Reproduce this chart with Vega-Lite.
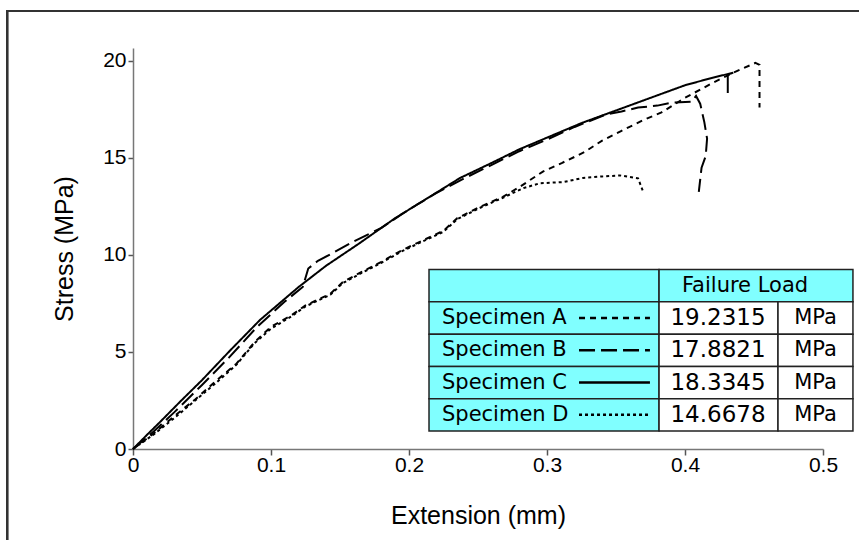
{
  "$schema": "https://vega.github.io/schema/vega-lite/v6.json",
  "width": 690,
  "height": 401,
  "autosize": {"type": "none"},
  "padding": {"left": 133, "top": 48, "right": 36, "bottom": 91},
  "background": "white",
  "config": {"view": {"stroke": null}, "font": "Liberation Sans", "axis": {"labelFontSize": 21, "labelFont": "Liberation Sans", "labelColor": "black"}},
  "datasets": {
    "curves": [
      {"specimen": "A", "i": 0, "ext": 0, "stress": 0},
      {"specimen": "A", "i": 1, "ext": 0.015, "stress": 0.8},
      {"specimen": "A", "i": 2, "ext": 0.03, "stress": 1.7},
      {"specimen": "A", "i": 3, "ext": 0.045, "stress": 2.55},
      {"specimen": "A", "i": 4, "ext": 0.06, "stress": 3.5},
      {"specimen": "A", "i": 5, "ext": 0.075, "stress": 4.4},
      {"specimen": "A", "i": 6, "ext": 0.088, "stress": 5.5},
      {"specimen": "A", "i": 7, "ext": 0.1, "stress": 6.3},
      {"specimen": "A", "i": 8, "ext": 0.115, "stress": 6.9},
      {"specimen": "A", "i": 9, "ext": 0.125, "stress": 7.4},
      {"specimen": "A", "i": 10, "ext": 0.143, "stress": 8.0},
      {"specimen": "A", "i": 11, "ext": 0.152, "stress": 8.6},
      {"specimen": "A", "i": 12, "ext": 0.165, "stress": 9.1},
      {"specimen": "A", "i": 13, "ext": 0.18, "stress": 9.65},
      {"specimen": "A", "i": 14, "ext": 0.195, "stress": 10.25},
      {"specimen": "A", "i": 15, "ext": 0.21, "stress": 10.75},
      {"specimen": "A", "i": 16, "ext": 0.225, "stress": 11.25},
      {"specimen": "A", "i": 17, "ext": 0.235, "stress": 11.9},
      {"specimen": "A", "i": 18, "ext": 0.252, "stress": 12.5},
      {"specimen": "A", "i": 19, "ext": 0.268, "stress": 13.0},
      {"specimen": "A", "i": 20, "ext": 0.28, "stress": 13.5},
      {"specimen": "A", "i": 21, "ext": 0.297, "stress": 14.3},
      {"specimen": "A", "i": 22, "ext": 0.311, "stress": 14.75},
      {"specimen": "A", "i": 23, "ext": 0.327, "stress": 15.3},
      {"specimen": "A", "i": 24, "ext": 0.34, "stress": 15.9},
      {"specimen": "A", "i": 25, "ext": 0.354, "stress": 16.4},
      {"specimen": "A", "i": 26, "ext": 0.37, "stress": 16.96},
      {"specimen": "A", "i": 27, "ext": 0.383, "stress": 17.35},
      {"specimen": "A", "i": 28, "ext": 0.4, "stress": 18.1},
      {"specimen": "A", "i": 29, "ext": 0.42, "stress": 18.87},
      {"specimen": "A", "i": 30, "ext": 0.435, "stress": 19.4},
      {"specimen": "A", "i": 31, "ext": 0.451, "stress": 19.9},
      {"specimen": "A", "i": 32, "ext": 0.454, "stress": 19.8},
      {"specimen": "A", "i": 33, "ext": 0.454, "stress": 17.6},
      {"specimen": "B", "i": 0, "ext": 0, "stress": 0},
      {"specimen": "B", "i": 1, "ext": 0.015, "stress": 0.9},
      {"specimen": "B", "i": 2, "ext": 0.03, "stress": 1.9},
      {"specimen": "B", "i": 3, "ext": 0.05, "stress": 3.3},
      {"specimen": "B", "i": 4, "ext": 0.07, "stress": 4.75},
      {"specimen": "B", "i": 5, "ext": 0.09, "stress": 6.3},
      {"specimen": "B", "i": 6, "ext": 0.11, "stress": 7.6},
      {"specimen": "B", "i": 7, "ext": 0.123, "stress": 8.35},
      {"specimen": "B", "i": 8, "ext": 0.127, "stress": 9.3},
      {"specimen": "B", "i": 9, "ext": 0.134, "stress": 9.7},
      {"specimen": "B", "i": 10, "ext": 0.146, "stress": 10.15},
      {"specimen": "B", "i": 11, "ext": 0.16, "stress": 10.7},
      {"specimen": "B", "i": 12, "ext": 0.18, "stress": 11.4},
      {"specimen": "B", "i": 13, "ext": 0.2, "stress": 12.35},
      {"specimen": "B", "i": 14, "ext": 0.22, "stress": 13.2},
      {"specimen": "B", "i": 15, "ext": 0.24, "stress": 13.95},
      {"specimen": "B", "i": 16, "ext": 0.26, "stress": 14.65},
      {"specimen": "B", "i": 17, "ext": 0.28, "stress": 15.35},
      {"specimen": "B", "i": 18, "ext": 0.3, "stress": 15.95},
      {"specimen": "B", "i": 19, "ext": 0.32, "stress": 16.6},
      {"specimen": "B", "i": 20, "ext": 0.343, "stress": 17.25},
      {"specimen": "B", "i": 21, "ext": 0.354, "stress": 17.4},
      {"specimen": "B", "i": 22, "ext": 0.366, "stress": 17.6},
      {"specimen": "B", "i": 23, "ext": 0.38, "stress": 17.7},
      {"specimen": "B", "i": 24, "ext": 0.39, "stress": 17.85},
      {"specimen": "B", "i": 25, "ext": 0.405, "stress": 17.9},
      {"specimen": "B", "i": 26, "ext": 0.408, "stress": 18.2},
      {"specimen": "B", "i": 27, "ext": 0.411, "stress": 17.8},
      {"specimen": "B", "i": 28, "ext": 0.414, "stress": 16.85},
      {"specimen": "B", "i": 29, "ext": 0.416, "stress": 16.0},
      {"specimen": "B", "i": 30, "ext": 0.415, "stress": 15.1},
      {"specimen": "B", "i": 31, "ext": 0.412, "stress": 14.5},
      {"specimen": "B", "i": 32, "ext": 0.41, "stress": 13.25},
      {"specimen": "C", "i": 0, "ext": 0, "stress": 0},
      {"specimen": "C", "i": 1, "ext": 0.01, "stress": 0.72},
      {"specimen": "C", "i": 2, "ext": 0.02, "stress": 1.42},
      {"specimen": "C", "i": 3, "ext": 0.035, "stress": 2.5},
      {"specimen": "C", "i": 4, "ext": 0.05, "stress": 3.55},
      {"specimen": "C", "i": 5, "ext": 0.07, "stress": 5.05},
      {"specimen": "C", "i": 6, "ext": 0.092, "stress": 6.65},
      {"specimen": "C", "i": 7, "ext": 0.12, "stress": 8.35},
      {"specimen": "C", "i": 8, "ext": 0.14, "stress": 9.45},
      {"specimen": "C", "i": 9, "ext": 0.164, "stress": 10.6},
      {"specimen": "C", "i": 10, "ext": 0.19, "stress": 11.9},
      {"specimen": "C", "i": 11, "ext": 0.215, "stress": 13.0},
      {"specimen": "C", "i": 12, "ext": 0.237, "stress": 13.97},
      {"specimen": "C", "i": 13, "ext": 0.26, "stress": 14.75},
      {"specimen": "C", "i": 14, "ext": 0.28, "stress": 15.45},
      {"specimen": "C", "i": 15, "ext": 0.3, "stress": 16.05},
      {"specimen": "C", "i": 16, "ext": 0.325, "stress": 16.8},
      {"specimen": "C", "i": 17, "ext": 0.35, "stress": 17.45},
      {"specimen": "C", "i": 18, "ext": 0.375, "stress": 18.1},
      {"specimen": "C", "i": 19, "ext": 0.4, "stress": 18.75},
      {"specimen": "C", "i": 20, "ext": 0.418, "stress": 19.1},
      {"specimen": "C", "i": 21, "ext": 0.435, "stress": 19.4},
      {"specimen": "C", "i": 22, "ext": 0.431, "stress": 19.3},
      {"specimen": "C", "i": 23, "ext": 0.431, "stress": 18.35},
      {"specimen": "D", "i": 0, "ext": 0, "stress": 0},
      {"specimen": "D", "i": 1, "ext": 0.015, "stress": 0.75},
      {"specimen": "D", "i": 2, "ext": 0.03, "stress": 1.6},
      {"specimen": "D", "i": 3, "ext": 0.045, "stress": 2.5},
      {"specimen": "D", "i": 4, "ext": 0.06, "stress": 3.4},
      {"specimen": "D", "i": 5, "ext": 0.075, "stress": 4.35},
      {"specimen": "D", "i": 6, "ext": 0.088, "stress": 5.45},
      {"specimen": "D", "i": 7, "ext": 0.1, "stress": 6.2},
      {"specimen": "D", "i": 8, "ext": 0.115, "stress": 6.85},
      {"specimen": "D", "i": 9, "ext": 0.125, "stress": 7.35},
      {"specimen": "D", "i": 10, "ext": 0.143, "stress": 7.95},
      {"specimen": "D", "i": 11, "ext": 0.152, "stress": 8.55},
      {"specimen": "D", "i": 12, "ext": 0.165, "stress": 9.05},
      {"specimen": "D", "i": 13, "ext": 0.18, "stress": 9.6},
      {"specimen": "D", "i": 14, "ext": 0.195, "stress": 10.2},
      {"specimen": "D", "i": 15, "ext": 0.21, "stress": 10.7},
      {"specimen": "D", "i": 16, "ext": 0.225, "stress": 11.2},
      {"specimen": "D", "i": 17, "ext": 0.235, "stress": 11.85},
      {"specimen": "D", "i": 18, "ext": 0.252, "stress": 12.45},
      {"specimen": "D", "i": 19, "ext": 0.268, "stress": 12.95},
      {"specimen": "D", "i": 20, "ext": 0.283, "stress": 13.45},
      {"specimen": "D", "i": 21, "ext": 0.295, "stress": 13.7},
      {"specimen": "D", "i": 22, "ext": 0.312, "stress": 13.76},
      {"specimen": "D", "i": 23, "ext": 0.326, "stress": 13.97},
      {"specimen": "D", "i": 24, "ext": 0.34, "stress": 14.05},
      {"specimen": "D", "i": 25, "ext": 0.353, "stress": 14.1},
      {"specimen": "D", "i": 26, "ext": 0.366, "stress": 13.95},
      {"specimen": "D", "i": 27, "ext": 0.37, "stress": 13.2}
    ],
    "table": [
      {"row": "hdr", "label": "", "load": "Failure Load", "unit": ""},
      {"row": "A", "label": "Specimen A", "load": "19.2315", "unit": "MPa"},
      {"row": "B", "label": "Specimen B", "load": "17.8821", "unit": "MPa"},
      {"row": "C", "label": "Specimen C", "load": "18.3345", "unit": "MPa"},
      {"row": "D", "label": "Specimen  D", "load": "14.6678", "unit": "MPa"}
    ]
  },
  "layer": [
    {
      "data": {"name": "curves"},
      "layer": [
        {
          "mark": {"type": "rect", "fill": null, "stroke": "#333333", "strokeWidth": 2, "clip": false},
          "encoding": {
            "x": {"datum": -0.0913, "type": "quantitative", "scale": {"domain": [0, 0.5]}},
            "x2": {"datum": 0.7},
            "y": {"datum": 22.58, "type": "quantitative", "scale": {"domain": [0, 20.67]}},
            "y2": {"datum": -8}
          }
        },
        {
          "mark": {"type": "line", "color": "black", "strokeWidth": 2, "clip": false},
          "encoding": {
            "x": {
              "field": "ext", "type": "quantitative",
              "scale": {"domain": [0, 0.5], "nice": false, "zero": false},
              "title": "Extension (mm)",
              "axis": {
                "values": [0, 0.1, 0.2, 0.3, 0.4, 0.5], "format": "~g", "grid": false, "labelFlush": false,
                "domainColor": "#777777", "domainWidth": 1.5, "tickColor": "#555555", "tickWidth": 1.5, "tickSize": 6,
                "labelFontSize": 21, "labelColor": "black", "labelPadding": -1, "labelFont": "Liberation Sans",
                "titleFontSize": 25, "titleFontWeight": "normal", "titleColor": "black", "titlePadding": 28, "titleFont": "Liberation Sans"
              }
            },
            "y": {
              "field": "stress", "type": "quantitative",
              "scale": {"domain": [0, 20.67], "nice": false, "zero": false},
              "title": "Stress (MPa)",
              "axis": {
                "values": [0, 5, 10, 15, 20], "grid": false, "labelFlush": false,
                "domainColor": "#777777", "domainWidth": 1.5, "tickColor": "#555555", "tickWidth": 1.5, "tickSize": 5,
                "labelFontSize": 21, "labelColor": "black", "labelPadding": 2, "labelFont": "Liberation Sans",
                "titleFontSize": 25, "titleFontWeight": "normal", "titleColor": "black", "titlePadding": 25, "titleFont": "Liberation Sans"
              }
            },
            "detail": {"field": "specimen"},
            "order": {"field": "i", "type": "quantitative"},
            "strokeDash": {
              "field": "specimen", "type": "nominal",
              "scale": {"domain": ["A", "B", "C", "D"], "range": [[6, 5], [16, 6], [1, 0], [3, 3]]},
              "legend": null
            }
          }
        }
      ]
    },
    {
      "data": {"name": "table"},
      "encoding": {
        "y": {
          "field": "row", "type": "nominal",
          "scale": {"domain": ["_1", "_2", "_3", "_4", "_5", "_6", "hdr", "A", "B", "C", "D"], "paddingInner": 0, "paddingOuter": 0.7085, "align": 0.607},
          "axis": null
        }
      },
      "layer": [
        {
          "mark": {"type": "rect", "fill": "#80FFFF", "stroke": "#222222", "strokeWidth": 1.5, "clip": false},
          "encoding": {"x": {"datum": 0.2145, "type": "quantitative"}, "x2": {"datum": 0.3812}}
        },
        {
          "transform": [{"filter": "datum.row == 'hdr'"}],
          "mark": {"type": "rect", "fill": "#80FFFF", "stroke": "#222222", "strokeWidth": 1.5, "clip": false},
          "encoding": {"x": {"datum": 0.3812, "type": "quantitative"}, "x2": {"datum": 0.5217}}
        },
        {
          "transform": [{"filter": "datum.row != 'hdr'"}],
          "mark": {"type": "rect", "fill": "white", "stroke": "#222222", "strokeWidth": 1.5, "clip": false},
          "encoding": {"x": {"datum": 0.3812, "type": "quantitative"}, "x2": {"datum": 0.4674}}
        },
        {
          "transform": [{"filter": "datum.row != 'hdr'"}],
          "mark": {"type": "rect", "fill": "white", "stroke": "#222222", "strokeWidth": 1.5, "clip": false},
          "encoding": {"x": {"datum": 0.4674, "type": "quantitative"}, "x2": {"datum": 0.5217}}
        },
        {
          "transform": [{"filter": "datum.row != 'hdr'"}],
          "mark": {"type": "text", "align": "left", "baseline": "middle", "font": "DejaVu Sans", "fontSize": 21, "color": "black", "clip": false},
          "encoding": {"x": {"datum": 0.2239, "type": "quantitative"}, "text": {"field": "label"}}
        },
        {
          "transform": [{"filter": "datum.row != 'hdr'"}],
          "mark": {"type": "rule", "color": "black", "strokeWidth": 2.5, "clip": false},
          "encoding": {
            "x": {"datum": 0.3232, "type": "quantitative"},
            "x2": {"datum": 0.3746},
            "strokeDash": {
              "field": "row", "type": "nominal",
              "scale": {"domain": ["A", "B", "C", "D"], "range": [[6, 5], [16, 6], [1, 0], [3, 3]]},
              "legend": null
            }
          }
        },
        {
          "transform": [{"filter": "datum.row != 'hdr'"}],
          "mark": {"type": "text", "align": "center", "baseline": "middle", "font": "DejaVu Sans", "fontSize": 23, "color": "black", "clip": false},
          "encoding": {"x": {"datum": 0.4239, "type": "quantitative"}, "text": {"field": "load"}}
        },
        {
          "transform": [{"filter": "datum.row != 'hdr'"}],
          "mark": {"type": "text", "align": "center", "baseline": "middle", "font": "DejaVu Sans", "fontSize": 21, "color": "black", "clip": false},
          "encoding": {"x": {"datum": 0.4946, "type": "quantitative"}, "text": {"field": "unit"}}
        },
        {
          "transform": [{"filter": "datum.row == 'hdr'"}],
          "mark": {"type": "text", "align": "center", "baseline": "middle", "font": "DejaVu Sans", "fontSize": 21, "color": "black", "clip": false},
          "encoding": {"x": {"datum": 0.4435, "type": "quantitative"}, "text": {"field": "load"}}
        }
      ]
    }
  ],
  "resolve": {"scale": {"y": "independent"}}
}
